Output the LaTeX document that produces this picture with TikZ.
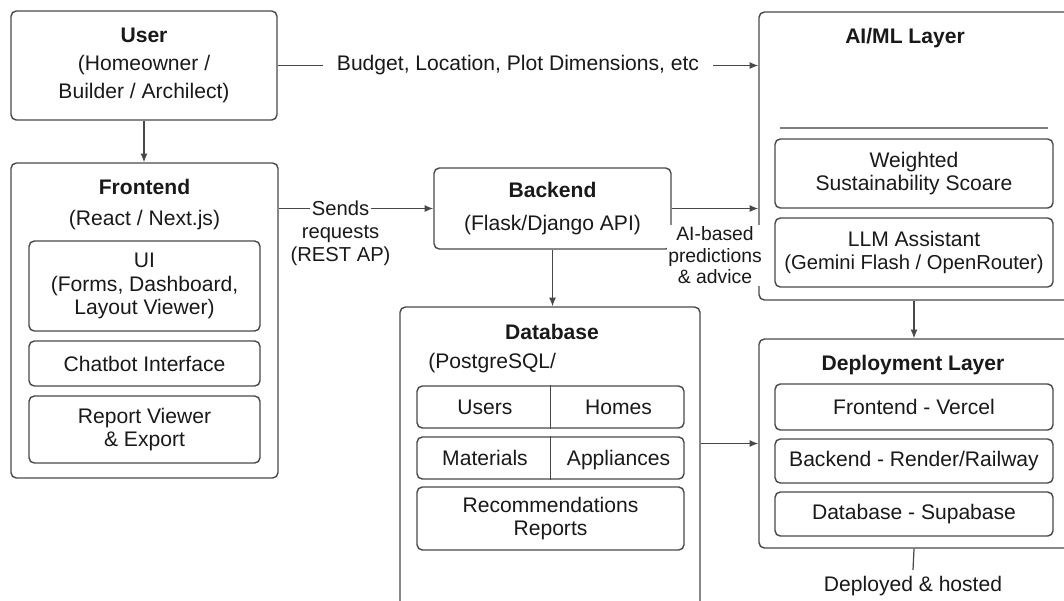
\documentclass[tikz,border=0pt]{standalone}
\usepackage{fontspec}
\setmainfont{Liberation Sans}
\usepackage{tikz}
\usetikzlibrary{arrows.meta,positioning}
\definecolor{linegray}{RGB}{72, 72, 72}
\definecolor{textdark}{RGB}{25, 25, 25}

\begin{document}
\begin{tikzpicture}[x=0.02cm, y=-0.02cm,
    every node/.style={text=textdark, font=\fontsize{12}{16}\selectfont},
    outerbox/.style={draw=linegray, line width=0.8pt, rounded corners=3pt, inner sep=0pt},
    innerbox/.style={draw=linegray, line width=0.8pt, rounded corners=3pt, align=center, inner sep=0pt, font=\fontsize{12}{13.5}\selectfont},
    cell/.style={text height=1.8ex, text depth=0.2ex},
    flow/.style={draw=linegray, line width=0.7pt, -{Latex[length=5pt,width=4pt]}},
    lbl/.style={font=\fontsize{11.5}{12.8}\selectfont, align=center}
  ]
    % Page
    \useasboundingbox (0,0) rectangle (1064,600);
    \clip (0,0) rectangle (1064,600);

    % User
    \node[outerbox, align=center, minimum width=5.32cm, minimum height=2.18cm] (user) at (144,65.5) {\textbf{User}\\(Homeowner /\\Builder / Archilect)};

    % Frontend
    \node[outerbox, minimum width=5.34cm, minimum height=6.30cm] (frontend) at (144.5,320.5) {};
    \node[align=center, font=\fontsize{12}{17.5}\selectfont] (fetitle) at (144.5,204.5) {\textbf{Frontend}\\(React / Next.js)};
    \node[innerbox, minimum width=4.62cm, minimum height=1.80cm] (ui) at (144.5,286) {UI\\(Forms, Dashboard,\\Layout Viewer)};
    \node[innerbox, minimum width=4.62cm, minimum height=0.90cm] (chatbot) at (144.5,363.5) {Chatbot Interface};
    \node[innerbox, minimum width=4.62cm, minimum height=1.34cm] (report) at (144.5,429.5) {Report Viewer\\\& Export};

    % Backend
    \node[outerbox, align=center, minimum width=4.74cm, minimum height=1.62cm, font=\fontsize{12}{18.5}\selectfont] (backend) at (552.5,208.5) {\textbf{Backend}\\(Flask/Django API)};

    % Database
    \node[outerbox, minimum width=6.00cm, minimum height=6.26cm] (database) at (550,463.5) {};
    \node (dbtitle) at (552,332) {\textbf{Database}};
    \node[anchor=west, inner sep=0pt] (dbsub) at (428,363) {(PostgreSQL/};
    \node[innerbox, minimum width=5.34cm, minimum height=0.84cm] (tabrowa) at (550.5,407) {};
    \draw[linegray, line width=0.8pt] (tabrowa.north) -- (tabrowa.south);
    \node[cell] (users) at (485,407) {Users};
    \node[cell] (homes) at (618.5,407) {Homes};
    \node[innerbox, minimum width=5.34cm, minimum height=0.84cm] (tabrowb) at (550.5,458) {};
    \draw[linegray, line width=0.8pt] (tabrowb.north) -- (tabrowb.south);
    \node[cell] (materials) at (485,458) {Materials};
    \node[cell] (appliances) at (618.5,458) {Appliances};
    \node[innerbox, minimum width=5.34cm, minimum height=1.26cm] (recs) at (550.5,518.5) {Recommendations\\Reports};

    % AI/ML layer
    \node[outerbox, minimum width=6.42cm, minimum height=5.76cm] (aiml) at (919.5,156) {};
    \node (aititle) at (905,38) {\textbf{AI/ML Layer}};
    \draw[linegray!70, line width=0.6pt] (780,128) -- (1048,128);
    \node[innerbox, minimum width=5.56cm, minimum height=1.38cm] (wss) at (914,173.5) {Weighted\\Sustainability Scoare};
    \node[innerbox, minimum width=5.56cm, minimum height=1.38cm] (llm) at (914,252.5) {LLM Assistant\\{\fontsize{11.5}{13.5}\selectfont(Gemini Flash / OpenRouter)}};

    % Deployment layer
    \node[outerbox, minimum width=6.42cm, minimum height=4.18cm] (deploy) at (919.5,443.5) {};
    \node (dptitle) at (913,365) {\textbf{Deployment Layer}};
    \node[innerbox, minimum width=5.56cm, minimum height=0.92cm] (dfe) at (914,407) {Frontend - Vercel};
    \node[innerbox, minimum width=5.56cm, minimum height=0.88cm] (dbe) at (914,461) {Backend - Render/Railway};
    \node[innerbox, minimum width=5.56cm, minimum height=0.88cm] (ddb) at (914,514) {Database - Supabase};
    \node (hosted) at (913,586) {Deployed \& hosted};

    % Flows
    \draw[flow] (user.east) -- node[fill=white, inner xsep=8pt] (budget) {Budget, Location, Plot Dimensions, etc} (user.east -| aiml.west);
    \draw[flow] (user.south) -- (user.south |- frontend.north);
    \draw[flow] (frontend.east |- backend.west) -- node[pos=0.4, lbl, fill=white, inner sep=1pt] (sends) {Sends} (backend.west);
    \node[lbl, inner sep=1pt, below=3pt of sends] (sendsnote) {requests\\(REST AP)};
    \draw[flow] (backend.east) -- node[below=9pt, lbl, fill=white, inner sep=1pt, font=\fontsize{11}{12.3}\selectfont] (aiadvice) {AI-based\\predictions\\\& advice} (backend.east -| aiml.west);
    \draw[flow] (backend.south) -- (backend.south |- database.north);
    \draw[flow] (database.east |- deploy.west) -- (deploy.west);
    \draw[flow] (aiml.south -| wss) -- (deploy.north -| wss);
    \draw[linegray, line width=0.7pt] (deploy.south -| ddb) -- (hosted.north);
\end{tikzpicture}
\end{document}
